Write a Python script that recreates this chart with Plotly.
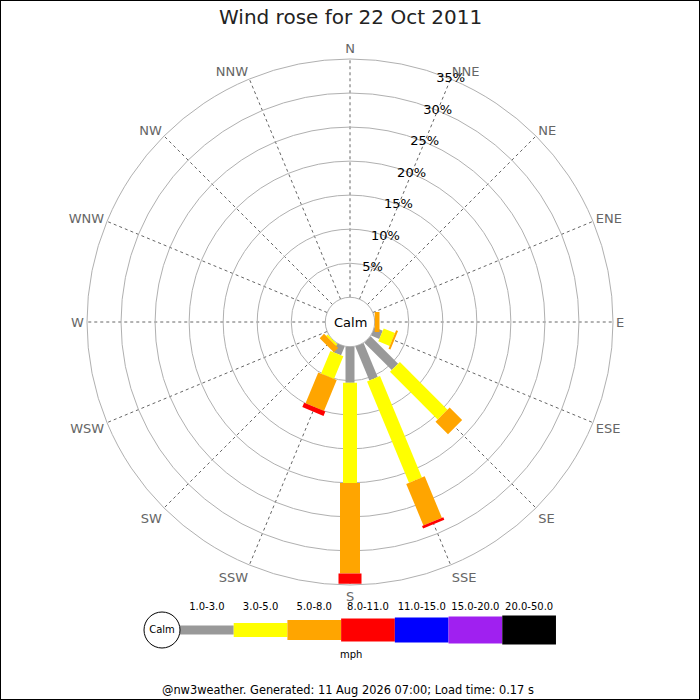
import plotly.graph_objects as go

# wind directions (compass points, clockwise from north)
directions = ["N", "NNE", "NE", "ENE", "E", "ESE", "SE", "SSE",
              "S", "SSW", "SW", "WSW", "W", "WNW", "NW", "NNW"]

# speed classes (mph) and their colours
speed_bins = ["1.0-3.0", "3.0-5.0", "5.0-8.0", "8.0-11.0",
              "11.0-15.0", "15.0-20.0", "20.0-50.0"]
bin_colors = ["#999999", "#ffff00", "#ffa500", "#ff0000",
              "#0000ff", "#a020f0", "#000000"]

# % of time in each direction for each speed class
freq_1_3 = [0, 0, 0, 0, 0, 1.3, 5.7, 5.4, 5.3, 1.4, 0, 0, 0, 0, 0, 0]
freq_3_5 = [0, 0, 0, 0, 0, 1.8, 9.9, 16.1, 14.7, 3.6, 0.3, 0, 0, 0, 0, 0]
freq_5_8 = [0, 0, 0, 0, 0.7, 0.3, 2.6, 6.6, 13.3, 4.9, 0.9, 0, 0, 0, 0, 0]
freq_8_11 = [0, 0, 0, 0, 0, 0, 0, 0.4, 1.5, 0.7, 0, 0, 0, 0, 0, 0]
freq_11_15 = [0] * 16
freq_15_20 = [0] * 16
freq_20_50 = [0] * 16
freqs = [freq_1_3, freq_3_5, freq_5_8, freq_8_11, freq_11_15, freq_15_20, freq_20_50]

ring_vals = [5, 10, 15, 20, 25, 30, 35]
ring_labels = ["5%", "10%", "15%", "20%", "25%", "30%", "35%"]

# bar thickness in px for each speed class
bar_px = [9, 14, 20, 23, 25, 27, 29]

FONT = "DejaVu Sans"
angles = [i * 22.5 for i in range(len(directions))]

fig = go.Figure()

# stacked bars, drawn as thick radial lines so they keep a constant width
base = [0.0] * len(directions)
for k, vals in enumerate(freqs):
    r, th = [], []
    for i, v in enumerate(vals):
        if v > 0:
            r += [base[i], base[i] + v, None]
            th += [angles[i], angles[i], None]
            base[i] += v
    if r:
        fig.add_trace(go.Scatterpolar(r=r, theta=th, mode="lines",
                                      line=dict(color=bin_colors[k], width=bar_px[k]),
                                      hoverinfo="skip", showlegend=False))

# ring labels along the NNE spoke
fig.add_trace(go.Scatterpolar(r=ring_vals, theta=[22.5] * len(ring_vals), mode="text",
                              text=ring_labels, textposition="middle center",
                              textfont=dict(family=FONT, size=13, color="black"),
                              hoverinfo="skip", showlegend=False))

# legend strip underneath
for k in range(len(speed_bins)):
    fig.add_trace(go.Scatter(x=[k, k + 1], y=[0, 0], mode="lines",
                             line=dict(color=bin_colors[k], width=bar_px[k]),
                             hoverinfo="skip", showlegend=False))
fig.add_trace(go.Scatter(x=[k + 0.5 for k in range(len(speed_bins))], y=[0.2] * len(speed_bins),
                         mode="text", text=speed_bins,
                         textfont=dict(family=FONT, size=10, color="black"),
                         hoverinfo="skip", showlegend=False))
fig.add_trace(go.Scatter(x=[-0.335], y=[0], mode="markers+text", text=["Calm"],
                         textposition="middle center",
                         textfont=dict(family=FONT, size=10, color="black"),
                         marker=dict(size=36, color="white", line=dict(color="black", width=1)),
                         hoverinfo="skip", showlegend=False))

fig.update_layout(
    width=700, height=700,
    margin=dict(l=0, r=0, t=0, b=0),
    paper_bgcolor="white", plot_bgcolor="white",
    font=dict(family=FONT),
    hovermode=False,
    polar=dict(
        domain=dict(x=[87 / 700, 613 / 700], y=[115 / 700, 641 / 700]),
        hole=0.094,
        bgcolor="white",
        radialaxis=dict(range=[0, 35], tickvals=[0] + ring_vals, showticklabels=False,
                        ticks="", showline=False, gridcolor="#b0b0b0", gridwidth=1,
                        layer="below traces"),
        angularaxis=dict(tickmode="array", tickvals=angles, ticktext=directions,
                         direction="clockwise", rotation=90, ticks="",
                         showline=True, linecolor="#b0b0b0", linewidth=1,
                         gridcolor="#666666", griddash="dot", gridwidth=1,
                         tickfont=dict(family=FONT, size=13, color="#666666"),
                         layer="below traces"),
    ),
    xaxis=dict(domain=[0, 1], range=[-180 / 53.71, 520 / 53.71], visible=False, fixedrange=True),
    yaxis=dict(domain=[0, 112 / 700], range=[-0.625, 0.375], visible=False, fixedrange=True),
    annotations=[
        dict(text="Wind rose for 22 Oct 2011", x=0.5, y=1 - 17 / 700, xref="paper", yref="paper",
             showarrow=False, yanchor="middle", font=dict(family=FONT, size=20, color="#222222")),
        dict(text="Calm", x=0.5, y=378 / 700, xref="paper", yref="paper", showarrow=False,
             yanchor="middle", font=dict(family=FONT, size=13, color="black")),
        dict(text="mph", x=351 / 700, y=46 / 700, xref="paper", yref="paper", showarrow=False,
             yanchor="middle", font=dict(family=FONT, size=10, color="black")),
        dict(text="@nw3weather. Generated: 11 Aug 2026 07:00; Load time: 0.17 s",
             x=348 / 700, y=10 / 700, xref="paper", yref="paper", showarrow=False,
             yanchor="middle", font=dict(family=FONT, size=11.4, color="black")),
    ],
    shapes=[dict(type="rect", xref="paper", yref="paper", x0=0, x1=1, y0=0, y1=1,
                 line=dict(color="black", width=2))],
)

# drop the browser's default page margin so the chart sits at the window's corner
fig.write_html("out.html", config={"displayModeBar": False},
               post_script="document.body.style.margin='0';")
